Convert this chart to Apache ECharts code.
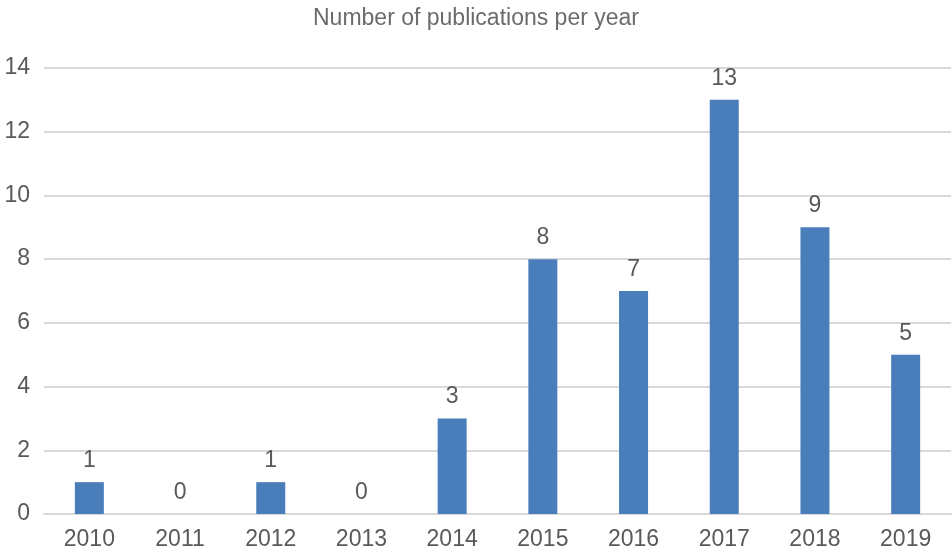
<!DOCTYPE html>
<html><head><meta charset="utf-8">
<script src="https://cdn.jsdelivr.net/npm/echarts@6/dist/echarts.min.js"></script>
<style>html,body{margin:0;padding:0;background:#fff}#c{width:952px;height:558px}</style>
</head><body><div id="c"></div>
<script>
var years = ["2010","2011","2012","2013","2014","2015","2016","2017","2018","2019"];
var counts = [1,0,1,0,3,8,7,13,9,5];
var yTicks = [0,14,2];

var chart = echarts.init(document.getElementById("c"));
chart.setOption({
    animation: false,
    title: {
        text: "Number of publications per year",
        left: "center",
        top: 2,
        textStyle: {color: "#6b6b6b", fontSize: 23, fontWeight: "normal", fontFamily: "Liberation Sans"}
    },
    grid: {left: 44, right: 1, top: 68, bottom: 44},
    xAxis: {
        type: "category",
        data: years,
        axisLine: {lineStyle: {color: "#d9d9d9", width: 2}},
        axisTick: {show: false},
        axisLabel: {color: "#595959", fontSize: 23, fontFamily: "Liberation Sans", margin: 14}
    },
    yAxis: {
        type: "value",
        min: yTicks[0], max: yTicks[1], interval: yTicks[2],
        axisLine: {show: false},
        axisTick: {show: false},
        splitLine: {lineStyle: {color: "#d9d9d9", width: 2}},
        axisLabel: {color: "#595959", fontSize: 23, fontFamily: "Liberation Sans", margin: 14}
    },
    series: [{
        type: "bar",
        data: counts,
        barWidth: 29,
        itemStyle: {color: "#4a7ebb"},
        label: {show: true, position: "top", distance: 10, color: "#595959", fontSize: 23, fontFamily: "Liberation Sans"}
    }]
});
</script></body></html>
